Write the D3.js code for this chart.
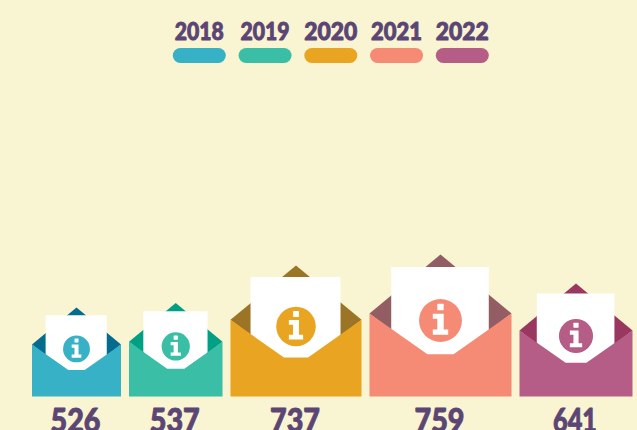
<!DOCTYPE html>
<html><head><meta charset="utf-8">
<script src="https://cdnjs.cloudflare.com/ajax/libs/d3/7.8.5/d3.min.js"></script>
<style>html,body{margin:0;padding:0;background:#F9F4D1;overflow:hidden}svg{display:block}
text{font-family:Lato,"Open Sans",sans-serif;font-weight:900;fill:#5B4574;stroke:#5B4574;stroke-width:.9px;stroke-linejoin:round;text-anchor:middle}</style>
</head><body><svg id="c" width="637" height="430"></svg>
<script>
const years = ["2018","2019","2020","2021","2022"];
const values = [526,537,737,759,641];
const frontColors = ["#36B1C6","#3BBEA6","#E9A521","#F58A75","#B55D87"];
const backColors = ["#056C8F","#00A085","#9B7425","#925E63","#9A3761"];
const legendWidths = [50,50,54,52,54];

const W = 637, H = 430, baseY = 396.5, gap = 8, startX = 32;
const svg = d3.select("#c");
svg.append("rect").attr("width",W).attr("height",H).attr("fill","#F9F4D1");

// legend
const legendX = d3.scalePoint().domain(years).range([199.3,462.3]);
const legend = svg.selectAll("g.lg").data(years).join("g").attr("class","lg")
  .attr("transform",d=>`translate(${legendX(d)},0)`);
legend.append("text").attr("y",39.5).attr("font-size",24).attr("textLength",(d,i)=>legendWidths[i]-1)
  .attr("lengthAdjust","spacingAndGlyphs").text(d=>d);
legend.append("rect").attr("x",-26.5).attr("y",48).attr("width",53).attr("height",15)
  .attr("rx",7.5).attr("fill",(d,i)=>frontColors[i]);

// size scale (icon edge in px by value)
const size = d3.scaleLinear().domain([526,537,641,737,759]).range([89,93.5,113,131,142]);

let cursor = startX;
const items = values.map((v,i)=>{
  const s = size(v), o = {v,i,s,x:cursor};
  cursor += s + gap;
  return o;
});

const line = d3.line();
const g = svg.selectAll("g.env").data(items).join("g").attr("class","env")
  .attr("transform",d=>`translate(${d.x},${baseY})`);

// unit coords: x right, y up
const P = (d,pts)=>line(pts.map(p=>[p[0]*d.s,-p[1]*d.s]))+"Z";
const sh = 0.585, fl = 0.298;
g.append("path").attr("fill",d=>backColors[d.i])
  .attr("d",d=>P(d,[[0,sh],[.5,1],[1,sh],[.5,.2]]));
g.append("path").attr("fill","#fff")
  .attr("d",d=>P(d,[[.153,.912],[.84,.912],[.84,.2],[.153,.2]]));
g.append("path").attr("fill",d=>frontColors[d.i])
  .attr("d",d=>P(d,[[0,0],[1,0],[1,sh],[.592,fl],[.408,fl],[0,sh]]));
const ic = g.append("g").attr("transform",d=>`translate(${d.s*.5},${-d.s*.535}) scale(${d.s*.151})`);
ic.append("circle").attr("r",1).attr("fill",d=>frontColors[d.i]);
ic.append("rect").attr("x",-.15).attr("y",-.78).attr("width",.3).attr("height",.3).attr("rx",.03).attr("fill","#fff");
ic.append("path").attr("fill","#fff")
  .attr("d",line([[-.36,-.32],[.15,-.32],[.15,.42],[.36,.42],[.36,.66],[-.36,.66],[-.36,.42],[-.15,.42],[-.15,-.08],[-.36,-.08]])+"Z");

// value labels
g.append("text").attr("x",d=>d.s/2-1).attr("y",432-baseY).attr("font-size",32)
  .attr("textLength",d=>d.v===641?44:50).attr("lengthAdjust","spacingAndGlyphs").text(d=>d.v);
</script></body></html>
